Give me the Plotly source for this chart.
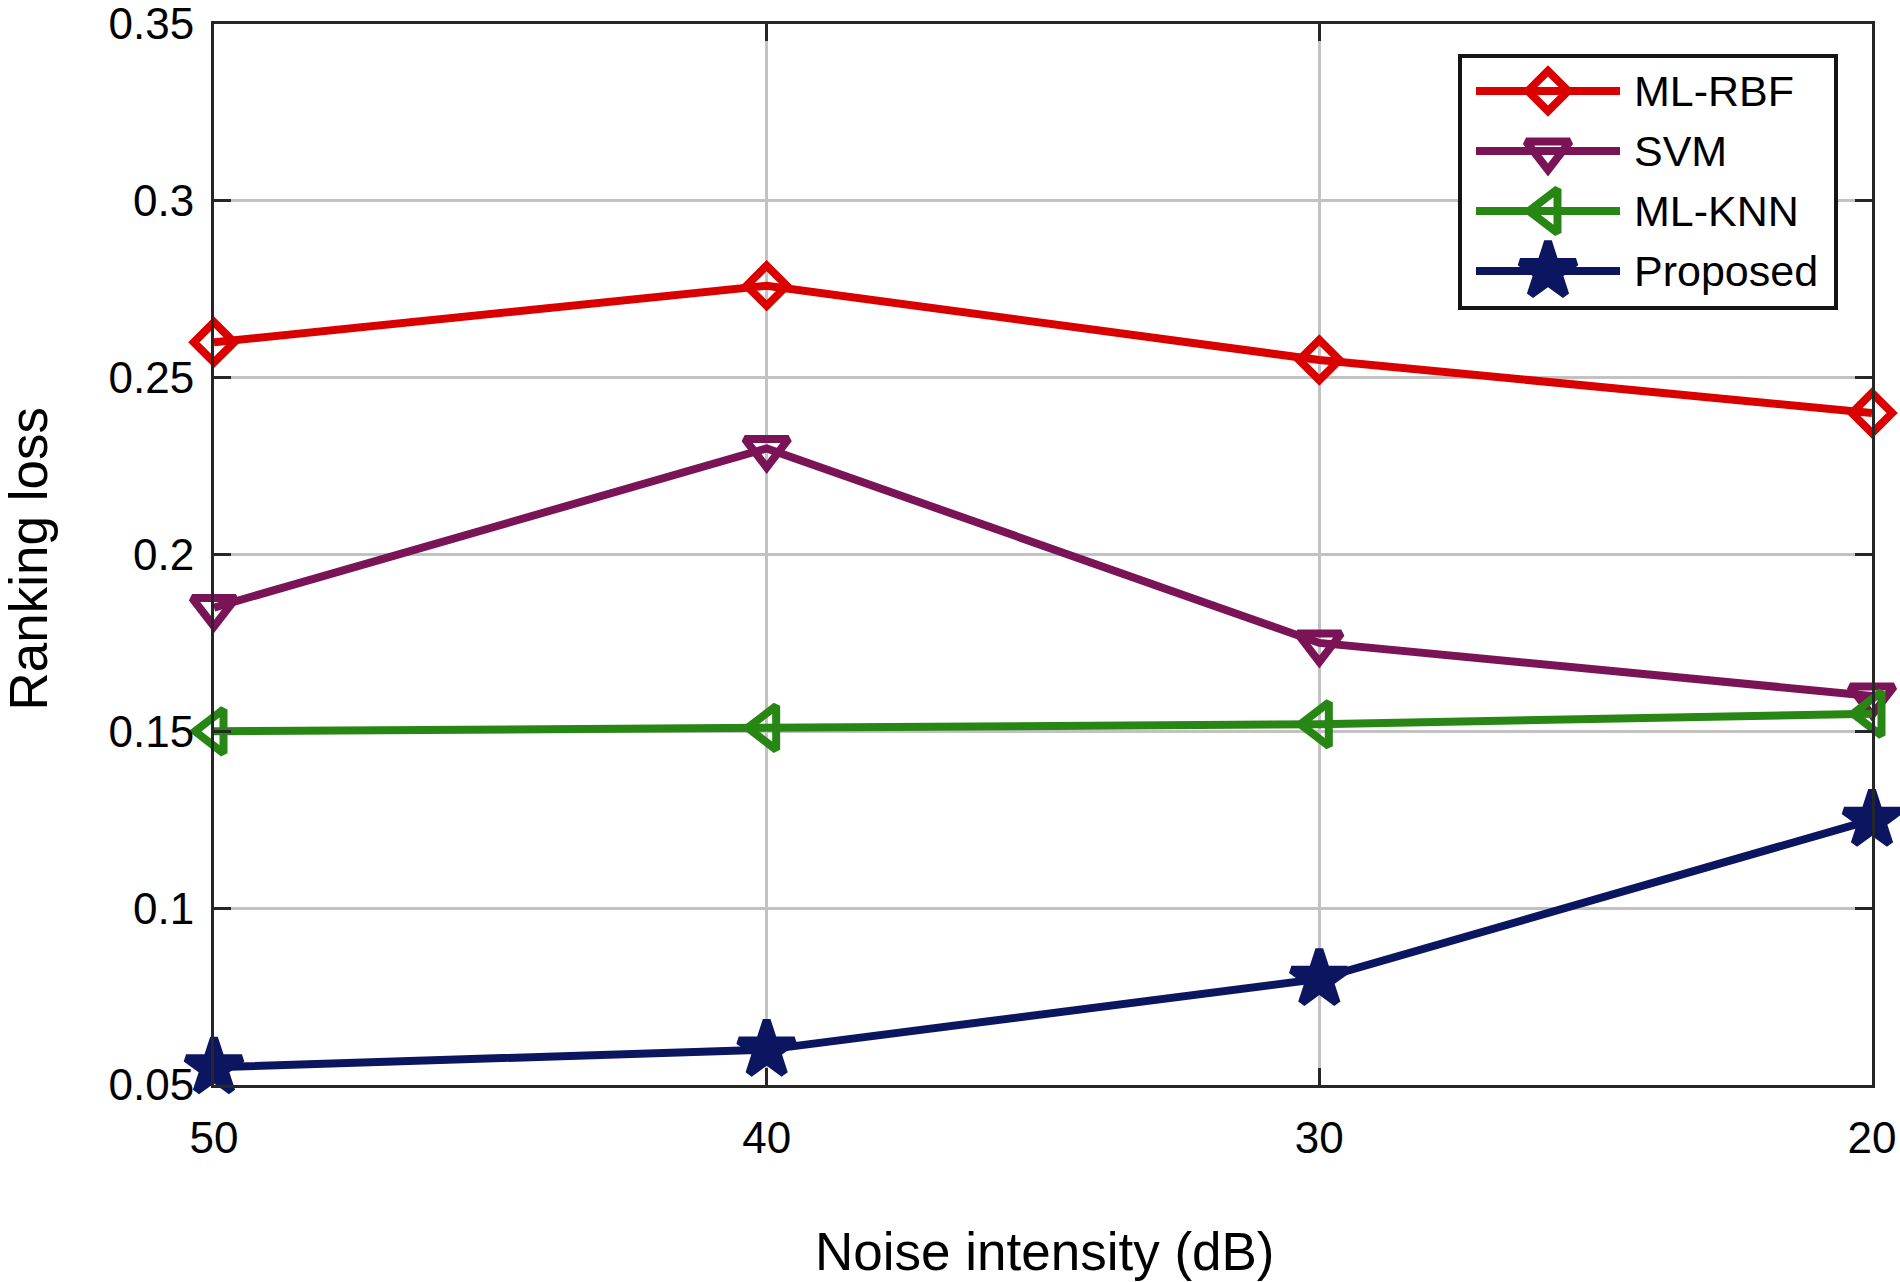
import plotly.graph_objects as go

# ---------------- data ----------------
noise_db = [50, 40, 30, 20]
ml_rbf = [0.26, 0.276, 0.255, 0.24]
svm = [0.185, 0.23, 0.175, 0.16]
ml_knn = [0.15, 0.151, 0.152, 0.155]
proposed = [0.055, 0.06, 0.08, 0.125]
series_names = ["ML-RBF", "SVM", "ML-KNN", "Proposed"]
x_ticks = [50, 40, 30, 20]
y_ticks = [0.05, 0.1, 0.15, 0.2, 0.25, 0.3, 0.35]
y_tick_labels = ["0.05", "0.1", "0.15", "0.2", "0.25", "0.3", "0.35"]
x_title = "Noise intensity (dB)"
y_title = "Ranking loss"

# ---------------- styles ----------------
colors = ["#DA0000", "#7A1456", "#288714", "#0C1660"]
symbols = ["diamond-open", "triangle-down-open", "triangle-left-open", "star"]
msizes = [31, 38, 38, 42]
LW = 8
MLW = 8
FONT = "Liberation Sans, Arial, sans-serif"
W, H = 1900, 1282
L, R, T, B = 214, 28, 24, 197
PW, PH = W - L - R, H - T - B
XR = [50, 20]
YR = [0.05, 0.35]

series = [ml_rbf, svm, ml_knn, proposed]

fig = go.Figure()
for name, vals, c, s, ms in zip(series_names, series, colors, symbols, msizes):
    fig.add_trace(go.Scatter(
        x=noise_db, y=vals, name=name, mode="lines+markers",
        line=dict(color=c, width=LW),
        marker=dict(symbol=s, size=ms, color=c, line=dict(color=c, width=MLW)),
        cliponaxis=False, showlegend=False, hoverinfo="skip"))

# ---------------- custom legend (pixel layout on overlay axes) ----------------
leg_box = (1460, 56, 1836, 308)     # page pixels
leg_rows = [91, 151, 211, 271]
leg_line = (1476, 1620)
leg_mark = 1548
leg_text = 1632

for name, c, s, ms, ry in zip(series_names, colors, symbols, msizes, leg_rows):
    fig.add_trace(go.Scatter(
        x=list(leg_line), y=[ry, ry], mode="lines", xaxis="x2", yaxis="y2",
        line=dict(color=c, width=LW), showlegend=False, hoverinfo="skip",
        cliponaxis=False))
    fig.add_trace(go.Scatter(
        x=[leg_mark], y=[ry], mode="markers", xaxis="x2", yaxis="y2",
        marker=dict(symbol=s, size=ms, color=c, line=dict(color=c, width=MLW)),
        showlegend=False, hoverinfo="skip", cliponaxis=False))
    fig.add_annotation(x=leg_text, y=ry, xref="x2", yref="y2", text=name,
                       showarrow=False, xanchor="left", yanchor="middle",
                       font=dict(family=FONT, size=43, color="black"))


def px_to_x(px):
    return XR[0] + (px - L) / PW * (XR[1] - XR[0])


def py_to_y(py):
    return YR[1] - (py - T) / PH * (YR[1] - YR[0])


fig.add_shape(type="rect", xref="x", yref="y", layer="between",
              x0=px_to_x(leg_box[0]), x1=px_to_x(leg_box[2]),
              y0=py_to_y(leg_box[3]), y1=py_to_y(leg_box[1]),
              line=dict(color="#141414", width=4), fillcolor="white")

axis_common = dict(
    showline=True, linecolor="#262626", linewidth=3, mirror="ticks",
    ticks="inside", ticklen=17, tickwidth=3, tickcolor="#262626",
    showgrid=True, gridcolor="#C2C2C2", gridwidth=3, zeroline=False,
    ticklabeloverflow="allow",
    tickfont=dict(family=FONT, size=44, color="black"),
)

fig.update_layout(
    width=W, height=H, margin=dict(l=L, r=R, t=T, b=B, autoexpand=False),
    paper_bgcolor="white", plot_bgcolor="white",
    font=dict(family=FONT, color="black"),
    xaxis=dict(range=XR, tickvals=x_ticks, ticktext=[str(v) for v in x_ticks],
               ticklabelstandoff=12, **axis_common),
    yaxis=dict(range=YR, tickvals=y_ticks, ticktext=y_tick_labels,
               ticklabelstandoff=8, **axis_common),
    xaxis2=dict(overlaying="x", range=[L, W - R], visible=False, anchor="y2",
                fixedrange=True),
    yaxis2=dict(overlaying="y", range=[H - B, T], visible=False, anchor="x2",
                fixedrange=True),
    showlegend=False,
)

fig.add_annotation(x=0.5, y=0, xref="paper", yref="paper", text=x_title,
                   showarrow=False, xanchor="center", yanchor="middle",
                   xshift=2, yshift=-166,
                   font=dict(family=FONT, size=53, color="black"))
fig.add_annotation(x=0, y=0.5, xref="paper", yref="paper", text=y_title,
                   showarrow=False, xanchor="center", yanchor="middle",
                   textangle=-90, xshift=-186, yshift=-5,
                   font=dict(family=FONT, size=53, color="black"))

fig.write_html("out.html",
               config={"displayModeBar": False},
               post_script="document.body.style.margin='0';"
                           "document.body.style.overflow='hidden';")
